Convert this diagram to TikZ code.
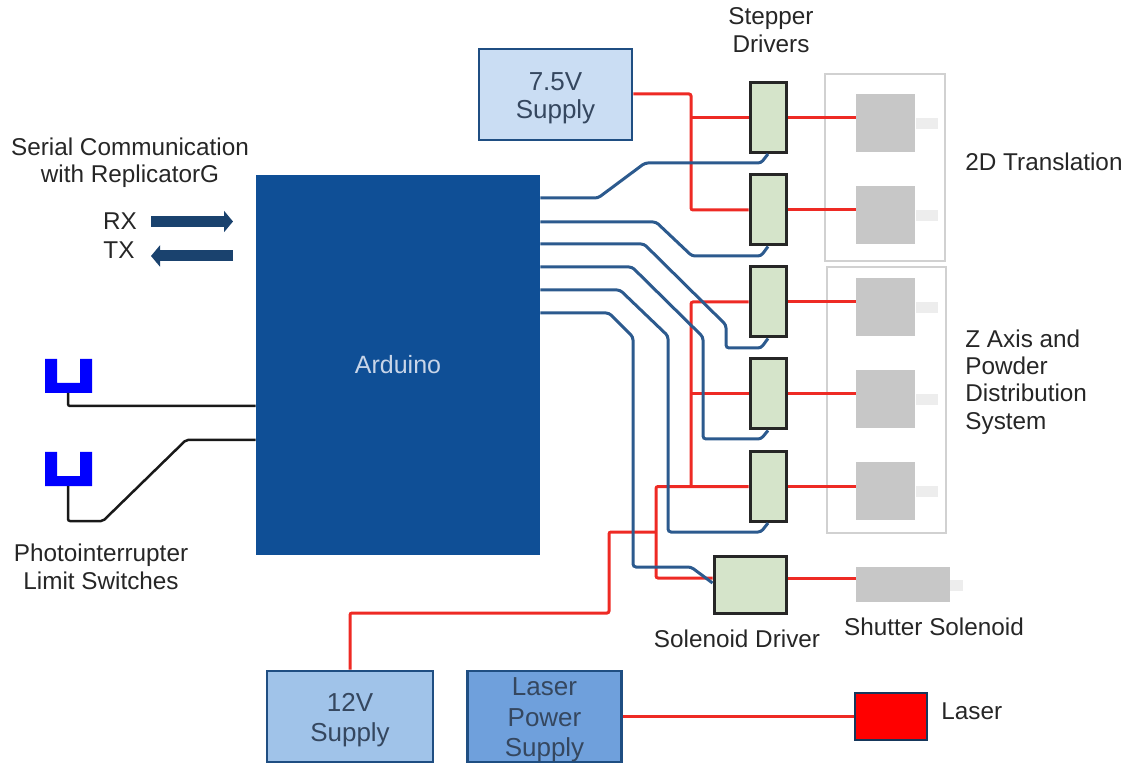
\documentclass[tikz,border=0pt]{standalone}
\usepackage{fontspec}
\setmainfont{Liberation Sans}
\usetikzlibrary{arrows.meta}
\definecolor{wirered}{HTML}{EE2A24}
\definecolor{wireblue}{HTML}{2C5A8E}
\definecolor{edgeblue}{HTML}{1F4E82}
\definecolor{textblue}{HTML}{35475F}
\definecolor{arduinoblue}{HTML}{0F4F96}
\definecolor{arduinotext}{HTML}{C8D5E8}
\definecolor{drivergreen}{HTML}{D5E4CA}
\definecolor{pale}{HTML}{CADDF3}
\definecolor{midblue}{HTML}{A0C3E9}
\definecolor{deepblue}{HTML}{6FA0DC}
\begin{document}
\begin{tikzpicture}[x=0.5pt, y=-0.5pt, font=\fontsize{12.15}{13.7}\selectfont, text=black!85,
		supply/.style={draw=edgeblue, line width=1.4pt, align=center, text=textblue, inner sep=0pt, font=\fontsize{13}{15.2}\selectfont},
		driver/.style={draw=black!85, fill=drivergreen, line width=1.5pt, minimum width=18pt, minimum height=35pt, inner sep=0pt},
		motor/.style={fill=black!22, minimum width=29.5pt, minimum height=29pt, inner sep=0pt},
		shaft/.style={fill=black!7, minimum width=11pt, minimum height=5.5pt, inner sep=0pt},
		housing/.style={draw=black!18, line width=1.2pt, inner sep=0pt},
		redwire/.style={draw=wirered, line width=1.5pt, rounded corners=1pt},
		bluewire/.style={draw=wireblue, line width=1.5pt, rounded corners=1.5pt},
		blackwire/.style={draw=black!90, line width=1.25pt, rounded corners=1pt},
		serial/.style={draw=edgeblue!85!black, line width=5.5pt, -{Triangle[width=10.5pt,length=4.5pt]}}]
	\useasboundingbox (0,0) rectangle (1127,763);
	\def\dropline{\rule{0pt}{12.5pt}}
	% housings around the motors
	\node[housing, minimum width=60pt, minimum height=93.5pt] (house2d) at (885,167.5) {};
	\node[housing, minimum width=59.5pt, minimum height=133pt] (housez) at (886.5,400) {};
	% motors with their shafts
	\foreach \n/\y in {1/123.5,2/215.5,3/307.5,4/399.5,5/491} {
		\node[shaft] (shaft\n) at (927,\y) {};
		\node[motor] (mot\n) at (885.5,\y) {};
	}
	\node[shaft, minimum width=6.5pt] (solshaft) at (956.5,585) {};
	\node[fill=black!22, minimum width=47pt, minimum height=17.5pt, inner sep=0pt] (sol) at (903,584.5) {};
	\node[draw=edgeblue!70!black, fill=red, line width=1.2pt, minimum width=36pt, minimum height=23.5pt, inner sep=0pt] (laser) at (891,716.5) {};
	% blocks
	\node[fill=arduinoblue, minimum width=142pt, minimum height=190pt, text=arduinotext, font=\fontsize{12.5}{15}\selectfont] (arduino) at (398,365) {Arduino};
	\node[supply, fill=pale, minimum width=76.5pt, minimum height=45.5pt, font=\fontsize{13}{14.2}\selectfont] (supply75) at (555.5,94.5) {\dropline 7.5V\\Supply};
	\node[supply, fill=midblue, minimum width=83pt, minimum height=45.5pt] (supply12) at (350,716.5) {\dropline 12V\\Supply};
	\node[supply, fill=deepblue, minimum width=77pt, minimum height=45.5pt] (supplylaser) at (544.5,716.5) {\dropline Laser\\Power\\Supply};
	\foreach \n/\y in {1/117.5,2/210,3/302,4/394,5/486.5} {
		\node[driver] (drv\n) at (768,\y) {};
	}
	\node[driver, minimum width=36pt, minimum height=28.5pt] (soldrv) at (750,584.5) {};
	% power wiring
	\coordinate (bus75) at (691,94);
	\coordinate (bus12) at (691,485);
	\coordinate (feed) at (656,486.5);
	\coordinate (solpin) at (656,578);
	\draw[redwire] (supply75.east |- bus75) -- (bus75) |- (drv2.west);
	\draw[redwire] (bus75 |- drv1.west) -- (drv1.west);
	\draw[redwire] (supply12.north) |- (609,613) |- (656,532);
	\draw[redwire] (solpin -| soldrv.west) -- (solpin) -- (feed) -- (drv5.west);
	\draw[redwire] (bus12 |- drv5.west) |- (drv3.west);
	\draw[redwire] (bus12 |- drv4.west) -- (drv4.west);
	\foreach \n in {1,...,5} {
		\draw[redwire] (drv\n.east) -- (drv\n.east -| mot\n.west);
	}
	\draw[redwire] (solpin -| soldrv.east) -- (solpin -| sol.west);
	\draw[redwire] (supplylaser.east) -- (laser.west);
	% control wiring from the Arduino
	\foreach \n/\ya/\xa/\xb/\yb in {1/198/598/645/163,2/222/656/692/256} {
		\draw[bluewire] (arduino.east |- 0,\ya) -- (\xa,\ya) -- (\xb,\yb) -- (761,\yb) -- (drv\n.south);
	}
	\foreach \n/\ya/\xa/\xb/\yb/\yc in {3/244/644/726/325/348,4/267/632/703/337/439,5/290/620/668/336/532} {
		\draw[bluewire] (arduino.east |- 0,\ya) -- (\xa,\ya) -- (\xb,\yb) -- (\xb,\yc) -- (761,\yc) -- (drv\n.south);
	}
	\draw[bluewire] (arduino.east |- 0,313) -- (609,313) -- (633,337) -- (633,567) -- (691,567) -- (soldrv.west |- 0,583);
	% photointerrupters
	\foreach \n/\y in {1/359,2/452} {
		\fill[blue] (45,\y) -- (57,\y) -- (57,\y+24) -- (80,\y+24) -- (80,\y) -- (92,\y) -- (92,\y+34) -- (45,\y+34) -- cycle;
		\coordinate (photo\n) at (68,\y+34);
	}
	\draw[blackwire] (photo1) |- (arduino.west |- 0,406);
	\draw[blackwire] (photo2) |- (103,521) -- (186,440) -- (arduino.west |- 0,440);
	% serial arrows
	\coordinate (rxa) at (151,221.5);
	\coordinate (rxb) at (233,221.5);
	\coordinate (txa) at (233,256);
	\coordinate (txb) at (151,256);
	\draw[serial] (rxa) -- (rxb);
	\draw[serial] (txa) -- (txb);
	% labels
	\node[align=center] (seriallabel) at (130,163) {Serial Communication\\with ReplicatorG};
	\node (rxlabel) at (120,221) {RX};
	\node (txlabel) at (119,250) {TX};
	\node[align=center] (photolabel) at (101,567) {Photointerrupter\\Limit Switches};
	\node[align=center] (stepperlabel) at (771,30) {Stepper\\Drivers};
	\node[anchor=west, inner sep=0pt] (label2d) at (965,162) {2D Translation};
	\node[anchor=west, align=left, inner sep=0pt] (labelz) at (965,382) {Z Axis and\\Powder\\Distribution\\System};
	\node (soldrvlabel) at (737,639) {Solenoid Driver};
	\node (sollabel) at (934,627) {Shutter Solenoid};
	\node[anchor=west, inner sep=0pt] (laserlabel) at (941,711) {Laser};
\end{tikzpicture}
\end{document}
